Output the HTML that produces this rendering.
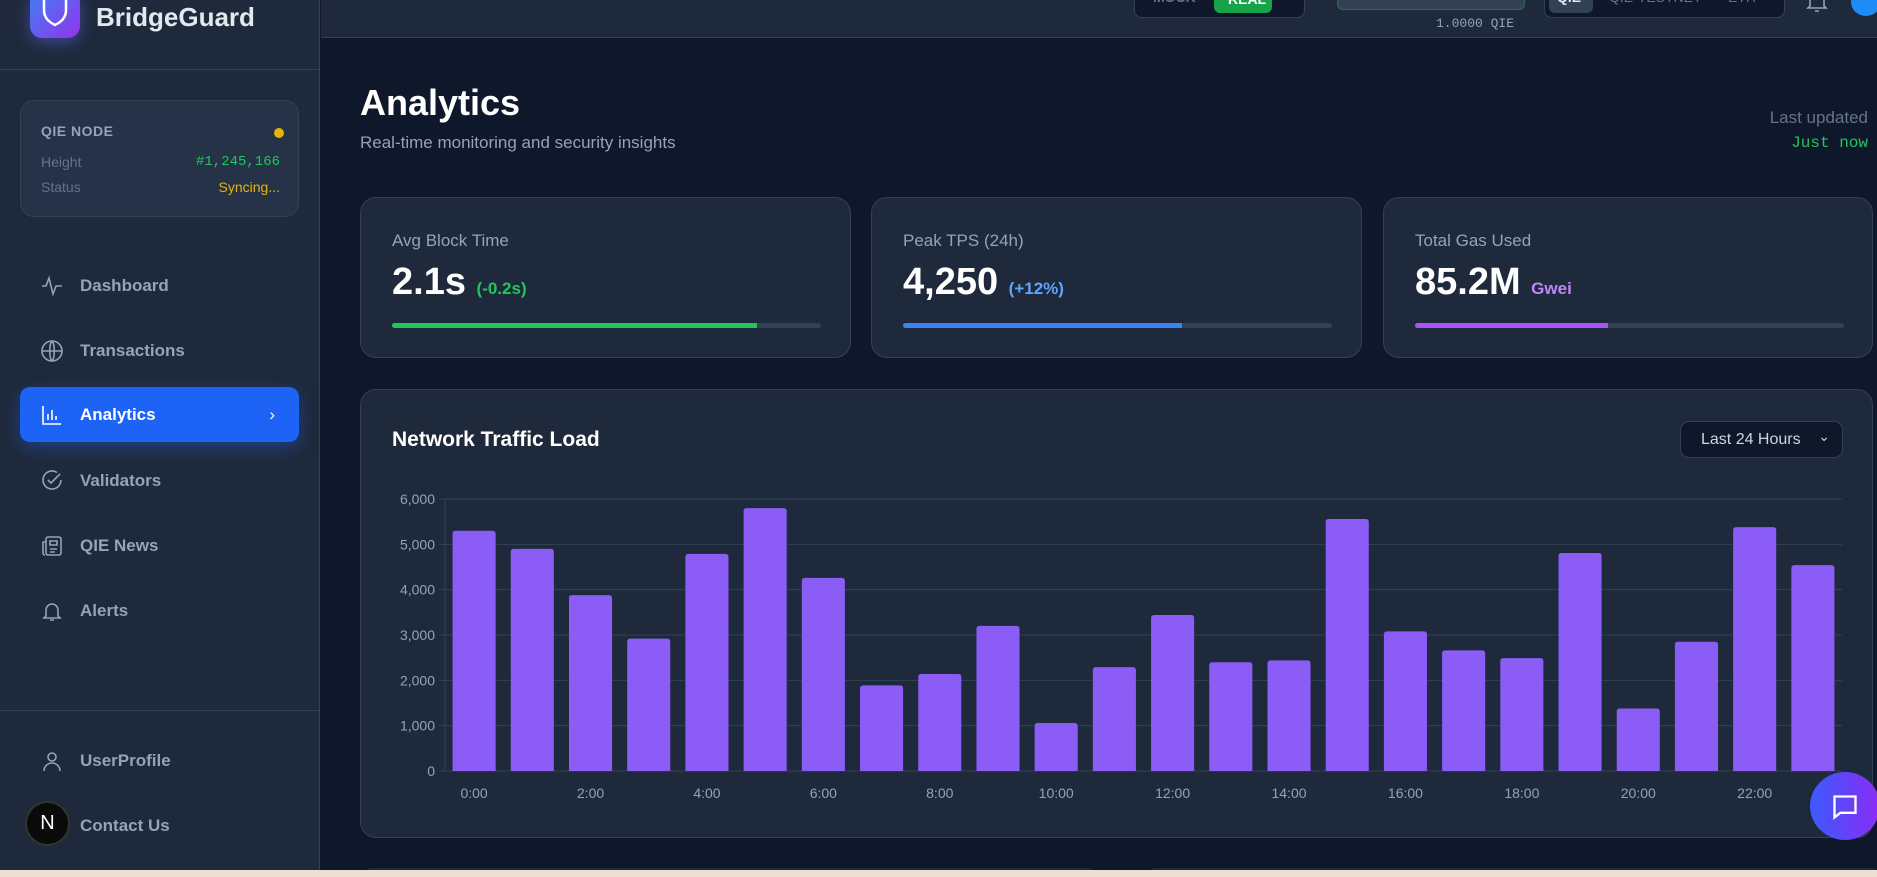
<!DOCTYPE html>
<html><head><meta charset="utf-8"><style>
*{box-sizing:border-box;margin:0;padding:0}
body{width:1877px;height:877px;overflow:hidden;background:#0f172a;font-family:"Liberation Sans",sans-serif;position:relative;color:#fff}
.abs{position:absolute}
.side{left:0;top:0;width:320px;height:870px;background:#1e293b;border-right:1px solid #334155}
.nav{position:absolute;left:20px;width:279px;height:55px;display:flex;align-items:center;padding-left:60px;font-size:17px;font-weight:bold;color:#94a3b8}
.nav svg{position:absolute;left:20px;top:16px}
.card{background:#1e293b;border:1px solid #334155;border-radius:16px}
.lbl{font-size:17px;color:#94a3b8}
.val{font-size:38px;font-weight:bold}
.bar{height:5px;border-radius:3px;background:#334155;overflow:hidden}
.mono{font-family:"Liberation Mono",monospace}
</style></head><body>
<div class="abs side">
  <div class="abs" style="left:30px;top:-10px;width:50px;height:48px;border-radius:12px;background:linear-gradient(135deg,#3b82f6,#9333ea);box-shadow:0 4px 16px rgba(99,102,241,.5)">
    <svg width="50" height="48" viewBox="0 0 50 48"><path d="M25 4 L36 8 V20 C36 28 31 32 25 35 C19 32 14 28 14 20 V8 Z" fill="none" stroke="#fff" stroke-width="2.5"/></svg></div>
  <div class="abs" style="left:96px;top:2px;font-size:26px;font-weight:bold;color:#e2e8f0">BridgeGuard</div>
  <div class="abs" style="left:0;top:69px;width:320px;height:1px;background:#334155"></div>
  <div class="abs" style="left:20px;top:100px;width:279px;height:117px;background:#263247;border:1px solid #334155;border-radius:14px">
    <div class="abs" style="left:20px;top:22px;font-size:14px;font-weight:bold;color:#94a3b8;letter-spacing:.5px">QIE NODE</div>
    <div class="abs" style="left:253px;top:27px;width:10px;height:10px;border-radius:50%;background:#eab308"></div>
    <div class="abs" style="left:20px;top:53px;font-size:14px;color:#64748b">Height</div>
    <div class="abs mono" style="right:18px;top:53px;font-size:14px;color:#22c55e">#1,245,166</div>
    <div class="abs" style="left:20px;top:78px;font-size:14px;color:#64748b">Status</div>
    <div class="abs" style="right:18px;top:78px;font-size:14px;color:#eab308">Syncing...</div>
  </div>
  <div class="nav" style="top:258px"><svg width="24" height="24" viewBox="0 0 24 24" fill="none" stroke="#94a3b8" stroke-width="1.6"><path d="M2 12h4l3-8 4 16 3-8h6"/></svg>Dashboard</div>
  <div class="nav" style="top:323px"><svg width="24" height="24" viewBox="0 0 24 24" fill="none" stroke="#94a3b8" stroke-width="1.6"><circle cx="12" cy="12" r="10"/><path d="M2 12h20M12 2c3 3 3 17 0 20M12 2c-3 3-3 17 0 20"/></svg>Transactions</div>
  <div class="nav" style="top:387px;background:#1d63f5;color:#fff;border-radius:10px;box-shadow:0 6px 18px rgba(37,99,235,.4)"><svg width="24" height="24" viewBox="0 0 24 24" fill="none" stroke="#fff" stroke-width="1.6"><path d="M3 3v18h18M8 17v-6M12 17V7M16 17v-4"/></svg>Analytics<span style="position:absolute;right:24px;font-weight:normal">›</span></div>
  <div class="nav" style="top:453px"><svg width="24" height="24" viewBox="0 0 24 24" fill="none" stroke="#94a3b8" stroke-width="1.6"><path d="M21 11a9 9 0 1 1-4-7.5"/><path d="M8 11l3 3 9-9"/></svg>Validators</div>
  <div class="nav" style="top:518px"><svg width="24" height="24" viewBox="0 0 24 24" fill="none" stroke="#94a3b8" stroke-width="1.6"><rect x="6" y="3" width="15" height="18" rx="2"/><path d="M6 8H3v11a2 2 0 0 0 2 2M10 7h7v4h-7zM10 15h7M10 18h5"/></svg>QIE News</div>
  <div class="nav" style="top:583px"><svg width="24" height="24" viewBox="0 0 24 24" fill="none" stroke="#94a3b8" stroke-width="1.6"><path d="M6 17V11a6 6 0 0 1 12 0v6l2 2H4zM10 21h4"/></svg>Alerts</div>
  <div class="abs" style="left:0;top:710px;width:320px;height:1px;background:#334155"></div>
  <div class="nav" style="top:733px"><svg width="24" height="24" viewBox="0 0 24 24" fill="none" stroke="#94a3b8" stroke-width="1.6"><circle cx="12" cy="8" r="4"/><path d="M4 22a8 8 0 0 1 16 0"/></svg>UserProfile</div>
  <div class="nav" style="top:798px">Contact Us</div>
  <div class="abs" style="left:25px;top:801px;width:45px;height:45px;border-radius:50%;background:#0a0a0a;border:2px solid #333;color:#fff;font-size:20px;display:flex;align-items:center;justify-content:center">N</div>
</div>
<div class="abs" style="left:321px;top:0;width:1556px;height:38px;background:#1e293b;border-bottom:1px solid #334155">
  <div class="abs" style="left:813px;top:-10px;width:171px;height:28px;background:#0f172a;border:1px solid #334155;border-radius:8px">
    <div class="abs" style="left:18px;top:-2px;font-size:14px;font-weight:bold;color:#64748b">MOCK</div>
    <div class="abs" style="left:79px;top:0;width:58px;height:22px;background:#16a34a;border-radius:6px;font-size:14px;font-weight:bold;color:#fff;padding-left:14px">REAL</div></div>
  <div class="abs" style="left:1016px;top:-10px;width:188px;height:20px;background:#334155;border:1px solid #2f6b50;border-radius:6px"></div>
  <div class="abs mono" style="left:1115px;top:16px;font-size:13px;color:#94a3b8">1.0000 QIE</div>
  <div class="abs" style="left:1223px;top:-10px;width:241px;height:28px;background:#0f172a;border:1px solid #334155;border-radius:8px">
    <div class="abs" style="left:4px;top:0;width:44px;height:22px;background:#334155;border-radius:6px"></div>
    <div class="abs" style="left:12px;top:-2px;font-size:14px;font-weight:bold;color:#e2e8f0">QIE</div>
    <div class="abs" style="left:64px;top:-2px;font-size:14px;color:#64748b">QIE-TESTNET</div>
    <div class="abs" style="left:183px;top:-2px;font-size:14px;color:#64748b">ETH</div></div>
  <svg class="abs" style="left:1485px;top:-6px" width="22" height="20" viewBox="0 0 22 20" fill="none" stroke="#94a3b8" stroke-width="1.6"><path d="M4 12V6a7 7 0 0 1 14 0v6l2 2H2zM9 17h4"/></svg>
  <div class="abs" style="left:1530px;top:-12px;width:30px;height:28px;border-radius:50%;background:#1d8cf8"></div>
</div>
<div class="abs" style="left:360px;top:82px;font-size:36px;font-weight:bold">Analytics</div>
<div class="abs" style="left:360px;top:133px;font-size:17px;color:#94a3b8">Real-time monitoring and security insights</div>
<div class="abs" style="right:9px;top:108px;font-size:17px;color:#64748b">Last updated</div>
<div class="abs mono" style="right:9px;top:134px;font-size:16px;color:#22c55e">Just now</div>

<div class="abs card" style="left:360px;top:197px;width:491px;height:161px">
  <div class="abs lbl" style="left:31px;top:33px">Avg Block Time</div>
  <div class="abs val" style="left:31px;top:63px">2.1s <span style="font-size:17px;color:#22c55e">(-0.2s)</span></div>
  <div class="abs bar" style="left:31px;top:125px;width:429px"><div style="width:85%;height:100%;background:#22c55e"></div></div></div>
<div class="abs card" style="left:871px;top:197px;width:491px;height:161px">
  <div class="abs lbl" style="left:31px;top:33px">Peak TPS (24h)</div>
  <div class="abs val" style="left:31px;top:63px">4,250 <span style="font-size:17px;color:#60a5fa">(+12%)</span></div>
  <div class="abs bar" style="left:31px;top:125px;width:429px"><div style="width:65%;height:100%;background:#3b82f6"></div></div></div>
<div class="abs card" style="left:1383px;top:197px;width:490px;height:161px">
  <div class="abs lbl" style="left:31px;top:33px">Total Gas Used</div>
  <div class="abs val" style="left:31px;top:63px">85.2M <span style="font-size:17px;color:#c084fc">Gwei</span></div>
  <div class="abs bar" style="left:31px;top:125px;width:429px"><div style="width:45%;height:100%;background:#a855f7"></div></div></div>

<div class="abs card" style="left:360px;top:389px;width:1513px;height:449px">
  <div class="abs" style="left:31px;top:38px;font-size:21px;font-weight:bold">Network Traffic Load</div>
  <div class="abs" style="left:1319px;top:31px;width:163px;height:37px;background:#0f172a;border:1px solid #334155;border-radius:9px;font-size:16px;color:#cbd5e1;padding:9px 0 0 20px">Last 24 Hours<span style="position:absolute;right:12px;top:6px;font-size:14px">⌄</span></div>
</div>
<svg class="abs" id="chart" style="left:0;top:0" width="1877" height="877"></svg>

<div class="abs" style="left:368px;top:868px;width:724px;height:3px;background:#1e293b;border-radius:3px"></div>
<div class="abs" style="left:1152px;top:868px;width:724px;height:3px;background:#1e293b;border-radius:3px"></div>
<div class="abs" style="left:0;top:870px;width:1877px;height:7px;background:#ede0d0"></div>
<div class="abs" style="left:1810px;top:772px;width:70px;height:68px;border-radius:50%;background:linear-gradient(90deg,#3b5bfd,#8b2cf5)">
  <svg style="position:absolute;left:21px;top:21px" width="28" height="28" viewBox="0 0 24 24" fill="none" stroke="#fff" stroke-width="2"><path d="M3 3h18v14H8l-5 4z"/></svg></div>

<script>
const categories=["0:00","1:00","2:00","3:00","4:00","5:00","6:00","7:00","8:00","9:00","10:00","11:00","12:00","13:00","14:00","15:00","16:00","17:00","18:00","19:00","20:00","21:00","22:00","23:00"];
const trafficValues=[5300,4900,3880,2920,4790,5800,4260,1890,2140,3200,1060,2290,3440,2400,2440,5560,3080,2660,2490,4810,1380,2850,5380,4540];
const yTicks=[0,1000,2000,3000,4000,5000,6000];
const yTickLabels=["0","1,000","2,000","3,000","4,000","5,000","6,000"];
const NS="http://www.w3.org/2000/svg";
const svg=document.getElementById('chart');
const X0=445,X1=1842,Y0=771,Y1=499,YMAX=6000;
const band=(X1-X0)/categories.length;
const yScale=v=>Y0-(v/YMAX)*(Y0-Y1);
const xCenter=i=>X0+band*(i+0.5);
function mk(t,a){const e=document.createElementNS(NS,t);for(const k in a)e.setAttribute(k,a[k]);svg.appendChild(e);return e;}
yTicks.forEach((v,i)=>{
  const g=mk('line',{x1:X0-6,x2:X1,y1:yScale(v),y2:yScale(v),stroke:'#334155','stroke-width':1});
  
  
  const t=mk('text',{x:X0-10,y:yScale(v)+5,'text-anchor':'end','font-size':14,fill:'#94a3b8','font-family':'Liberation Sans, sans-serif'});
  t.textContent=yTickLabels[i];
  
  
});
mk('line',{x1:X0,x2:X0,y1:Y1,y2:Y0,stroke:'#334155'});
const bw=band*0.74;
trafficValues.forEach((v,i)=>{
  const y=yScale(v);
  const r=mk('path',{d:`M${xCenter(i)-bw/2},${Y0}V${y+3}q0,-3 3,-3h${bw-6}q3,0 3,3V${Y0}Z`,fill:'#8b5cf6'});
  
  
  if(i%2===0){
    const t=mk('text',{x:xCenter(i),y:798,'text-anchor':'middle','font-size':14,fill:'#94a3b8','font-family':'Liberation Sans, sans-serif'});
    t.textContent=categories[i];
    
    
  }
});
</script>
</body></html>
